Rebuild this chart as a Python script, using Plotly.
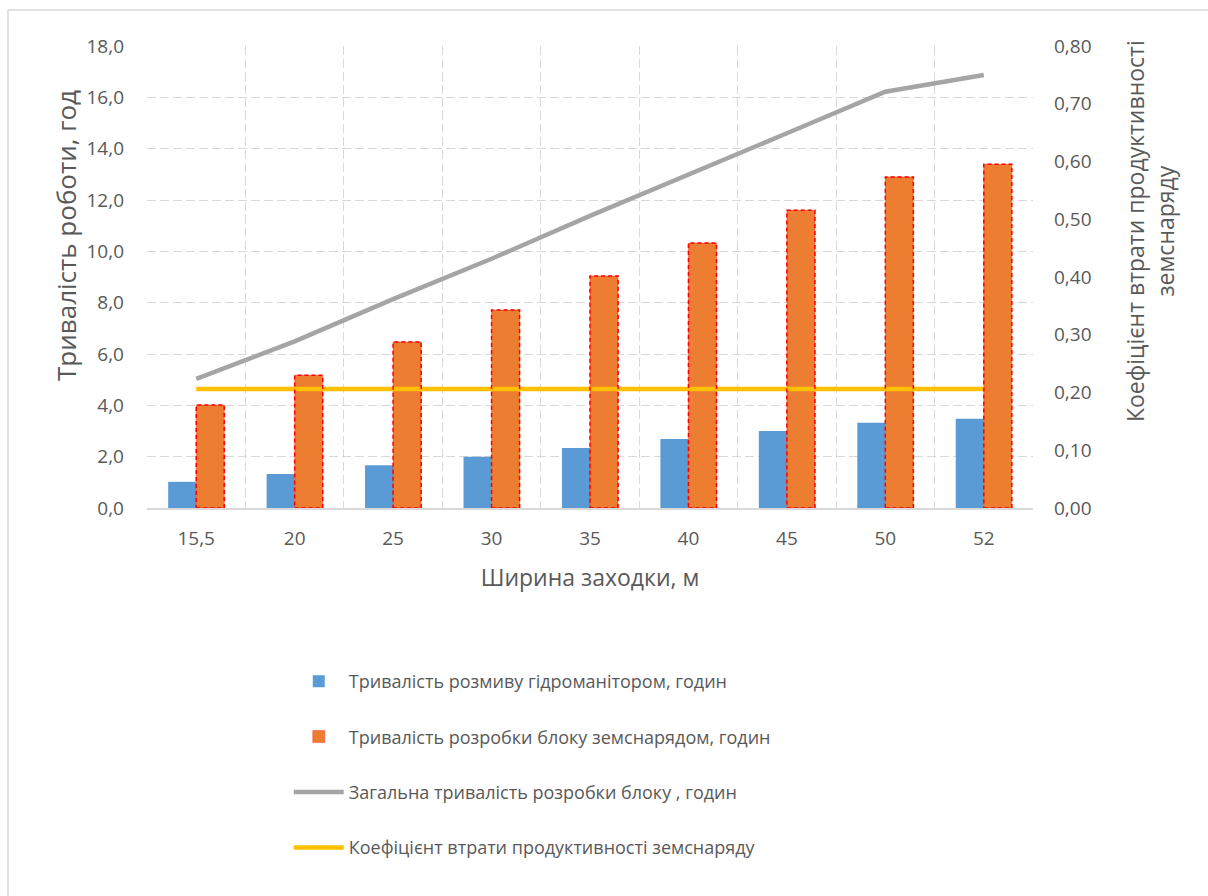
import plotly.graph_objects as go

categories = ["15,5", "20", "25", "30", "35", "40", "45", "50", "52"]
hydromonitor = [1.02, 1.32, 1.67, 2.00, 2.34, 2.69, 3.00, 3.32, 3.48]
dredger = [4.01, 5.17, 6.47, 7.71, 9.04, 10.32, 11.60, 12.90, 13.39]
total = [5.03, 6.49, 8.14, 9.71, 11.38, 13.01, 14.60, 16.22, 16.87]
loss_coef = [0.206] * 9

names = [
    "Тривалість розмиву гідроманітором, годин",
    "Тривалість розробки блоку земснарядом, годин",
    "Загальна тривалість розробки блоку , годин",
    "Коефіцієнт втрати продуктивності земснаряду",
]
x_title = "Ширина заходки, м"
y_title = "Тривалість роботи, год"
y2_title = "Коефіцієнт втрати продуктивності<br>земснаряду"

FONT = "Open Sans"
TXT = "#595959"
GRID = "#d9d9d9"
DASH = "9px,4px"
BARGAP = 0.43

# plot area in pixels (used only for converting layout positions to paper units)
PL, PR, PT, PB = 147, 1033, 46, 508
PW, PH = PR - PL, PB - PT


def px_x(px):
    return (px - PL) / PW


def px_y(py):
    return (PB - py) / PH


fig = go.Figure()
fig.add_trace(go.Bar(x=categories, y=hydromonitor, name=names[0],
                     marker=dict(color="#5b9bd5", line=dict(width=0)),
                     legendgroup="a"))
fig.add_trace(go.Bar(x=categories, y=dredger, name=names[1],
                     marker=dict(color="#ed7d31",
                                 line=dict(color="rgba(255,0,0,0.35)", width=1)),
                     legendgroup="b"))
fig.add_trace(go.Scatter(x=categories, y=total, name=names[2], mode="lines",
                         line=dict(color="#a5a5a5", width=4.5),
                         legendgroup="c"))
fig.add_trace(go.Scatter(x=categories, y=loss_coef, name=names[3], mode="lines",
                         line=dict(color="#ffc000", width=4.5),
                         yaxis="y2", legendgroup="d"))

# dashed red outline of the dredger bars (data-coordinate shapes on the category axis)
bar_w = (1 - BARGAP) / 2
outline_shapes = [
    dict(type="rect", xref="x", yref="y", x0=i, x1=i + bar_w, y0=0, y1=v,
         line=dict(color="#ff0000", width=1.5, dash="4px,3px"),
         fillcolor="rgba(0,0,0,0)", layer="above")
    for i, v in enumerate(dredger)
]

fig.update_layout(
    width=1208, height=896,
    paper_bgcolor="white", plot_bgcolor="white",
    separators=", ",
    font=dict(family=FONT, color=TXT, size=18),
    margin=dict(l=PL, r=1208 - PR, t=PT, b=896 - PB),
    barmode="group", bargap=BARGAP, bargroupgap=0,
    xaxis=dict(type="category", tickson="boundaries", showgrid=True,
               gridcolor=GRID, griddash=DASH, gridwidth=1.2,
               showline=True, linecolor=GRID, linewidth=1.5,
               ticks="", tickfont=dict(size=19, color=TXT), ticklabelstandoff=12,
               title=dict(text=x_title, font=dict(size=23, color=TXT), standoff=20)),
    yaxis=dict(range=[0, 18], dtick=2, tickformat=".1f", showgrid=True,
               gridcolor=GRID, griddash=DASH, gridwidth=1.2, zeroline=False,
               ticks="", tickfont=dict(size=19, color=TXT), ticklabelstandoff=22),
    yaxis2=dict(range=[0, 0.8], dtick=0.1, tickformat=".2f", overlaying="y", side="right",
                showgrid=False, zeroline=False, ticks="",
                tickfont=dict(size=19, color=TXT), ticklabelstandoff=20),
    annotations=[
        dict(text=y_title, textangle=-90, xref="paper", yref="paper",
             x=px_x(66), y=px_y(236), xanchor="center", yanchor="middle",
             showarrow=False, font=dict(size=26, color=TXT)),
        dict(text=y2_title, textangle=-90, xref="paper", yref="paper",
             x=px_x(1150), y=px_y(231), xanchor="center", yanchor="middle",
             showarrow=False, font=dict(size=23, color=TXT)),
    ],
    legend=dict(x=0.16, y=-0.3355, xanchor="left", yanchor="top",
                orientation="v", traceorder="grouped", tracegroupgap=29,
                font=dict(size=18, color=TXT), itemwidth=50),
    shapes=[dict(type="rect", xref="paper", yref="paper",
                 x0=px_x(8), x1=px_x(1215), y0=px_y(900), y1=px_y(10),
                 line=dict(color="#d9d9d9", width=1.5), fillcolor="rgba(0,0,0,0)",
                 layer="below")] + outline_shapes,
)

fig.write_html("out.html")
